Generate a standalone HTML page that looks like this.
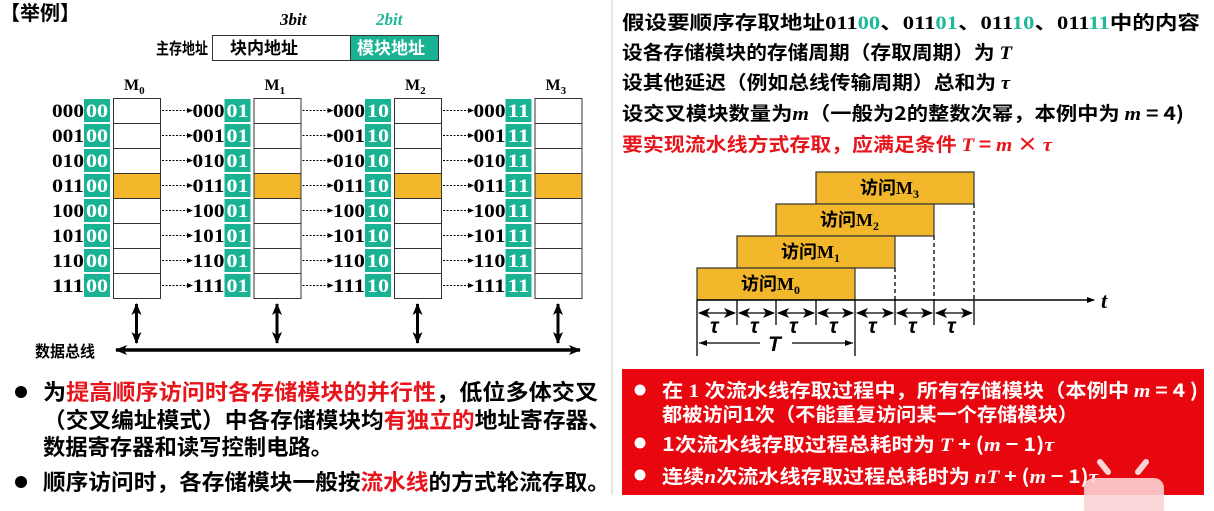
<!DOCTYPE html>
<html><head><meta charset="utf-8"><style>
html,body{margin:0;padding:0;background:#fff;width:1214px;height:511px;overflow:hidden}
svg{display:block}
text{font-family:"Liberation Sans","Noto Sans CJK SC",sans-serif;font-weight:bold}
.cj{font-family:"Noto Sans CJK SC","WenQuanYi Zen Hei",sans-serif;font-weight:bold}
.se{font-family:"Liberation Serif","Noto Serif CJK SC",serif;font-weight:bold}
.it{font-family:"Liberation Serif",serif;font-style:italic;font-weight:bold}
</style></head><body>
<svg width="1214" height="511" viewBox="0 0 1214 511" xmlns="http://www.w3.org/2000/svg">
<defs>
<marker id="ah" markerWidth="8" markerHeight="8" refX="7" refY="4" orient="auto" markerUnits="userSpaceOnUse"><path d="M0,1 L8,4 L0,7 Z" fill="#000"/></marker>
<marker id="ahs" markerWidth="6" markerHeight="6" refX="5" refY="3" orient="auto" markerUnits="userSpaceOnUse"><path d="M0,0.5 L6,3 L0,5.5 Z" fill="#000"/></marker>
<marker id="ahb" markerWidth="12" markerHeight="12" refX="11" refY="6" orient="auto-start-reverse" markerUnits="userSpaceOnUse"><path d="M0,1 L12,6 L0,11 L3,6 Z" fill="#000"/></marker>
</defs>

<line x1="612" y1="0" x2="612" y2="495" stroke="#ccc" stroke-width="1"/>

<text x="0" y="20" class="cj" font-size="20">【举例】</text>
<text x="280" y="25" class="it" font-size="17">3bit</text>
<text x="376" y="25" class="it" font-size="17" fill="#1fb89a">2bit</text>
<text x="156" y="54" class="cj" font-size="16" textLength="52" lengthAdjust="spacingAndGlyphs">主存地址</text>
<rect x="212.5" y="35.5" width="138" height="25" fill="#fff" stroke="#333"/>
<rect x="350.5" y="35.5" width="88" height="25" fill="#19b394" stroke="#333"/>
<text x="230" y="54" class="cj" font-size="17">块内地址</text>
<text x="357" y="54" class="cj" font-size="17" fill="#fff">模块地址</text>

<g id="mods"></g>
<script>
(function(){
var NS="http://www.w3.org/2000/svg",g=document.getElementById('mods');
function el(t,a,txt){var e=document.createElementNS(NS,t);for(var k in a)e.setAttribute(k,a[k]);if(txt!=null)e.textContent=txt;g.appendChild(e);return e;}
var hi=["000","001","010","011","100","101","110","111"],lo=["00","01","10","11"];
for(var m=0;m<4;m++){
 var ox=m*140.5;
 var h=el('text',{x:124+ox,y:90,'class':'se','font-size':'16'},'M');
 var s=document.createElementNS(NS,'tspan');s.setAttribute('font-size','11');s.setAttribute('dy','4');s.textContent=m;h.appendChild(s);
 for(var r=0;r<8;r++){
  var y=98+r*25;
  el('rect',{x:113+ox+0.5,y:y+0.5,width:47,height:25,fill:(r==3?'#f2b72a':'#fff'),stroke:'#333','stroke-width':'1'});
  el('rect',{x:84+ox,y:y+1,width:26,height:23,fill:'#19b394'});
  el('text',{x:52+ox,y:y+19,'class':'se','font-size':'19',textLength:'32',lengthAdjust:'spacingAndGlyphs'},hi[r]);
  el('text',{x:86+ox,y:y+19,'class':'se','font-size':'19',fill:'#fff',textLength:'22',lengthAdjust:'spacingAndGlyphs'},lo[m]);
  if(m<3){el('line',{x1:162+ox,y1:y+12.5,x2:192+ox,y2:y+12.5,stroke:'#000','stroke-width':'1','stroke-dasharray':'2,1.5','marker-end':'url(#ahs)'});}
 }
 el('line',{x1:136.5+ox,y1:304,x2:136.5+ox,y2:343,stroke:'#000','stroke-width':'3','marker-end':'url(#ahb)','marker-start':'url(#ahb)'});
}
})();
</script>
<line x1="116" y1="350" x2="580" y2="350" stroke="#000" stroke-width="3.5" marker-end="url(#ahb)" marker-start="url(#ahb)"/>
<text x="35" y="357" class="cj" font-size="16" textLength="60" lengthAdjust="spacingAndGlyphs">数据总线</text>

<circle cx="21" cy="392" r="6" fill="#000"/>
<text x="43" y="400" class="cj" font-size="22" textLength="555" lengthAdjust="spacingAndGlyphs">为<tspan fill="#e8141b">提高顺序访问时各存储模块的并行性</tspan>，低位多体交叉</text>
<text x="43" y="428" class="cj" font-size="22" textLength="568" lengthAdjust="spacingAndGlyphs">（交叉编址模式）中各存储模块均<tspan fill="#e8141b">有独立的</tspan>地址寄存器、</text>
<text x="43" y="455" class="cj" font-size="22" textLength="290" lengthAdjust="spacingAndGlyphs">数据寄存器和读写控制电路。</text>
<circle cx="21" cy="482" r="6" fill="#000"/>
<text x="43" y="490" class="cj" font-size="22" textLength="567" lengthAdjust="spacingAndGlyphs">顺序访问时，各存储模块一般按<tspan fill="#e8141b">流水线</tspan>的方式轮流存取。</text>

<text x="622" y="29" class="cj" font-size="19" textLength="578" lengthAdjust="spacingAndGlyphs">假设要顺序存取地址<tspan class="se">011<tspan fill="#1fb89a">00</tspan></tspan>、<tspan class="se">011<tspan fill="#1fb89a">01</tspan></tspan>、<tspan class="se">011<tspan fill="#1fb89a">10</tspan></tspan>、<tspan class="se">011<tspan fill="#1fb89a">11</tspan></tspan>中的内容</text>
<text x="622" y="59" class="cj" font-size="19" textLength="390" lengthAdjust="spacingAndGlyphs">设各存储模块的存储周期（存取周期）为 <tspan class="it">T</tspan></text>
<text x="622" y="89" class="cj" font-size="19" textLength="388" lengthAdjust="spacingAndGlyphs">设其他延迟（例如总线传输周期）总和为 <tspan class="it">τ</tspan></text>
<text x="622" y="120" class="cj" font-size="19" textLength="562" lengthAdjust="spacingAndGlyphs">设交叉模块数量为<tspan class="it">m</tspan>（一般为2的整数次幂，本例中为 <tspan class="it">m</tspan> = 4)</text>
<text x="622" y="151" class="cj" font-size="19" fill="#e8141b" textLength="430" lengthAdjust="spacingAndGlyphs">要实现流水线方式存取，应满足条件 <tspan class="it">T</tspan> = <tspan class="it">m</tspan> × <tspan class="it">τ</tspan></text>

<g stroke="#333" stroke-width="1.2">
<rect x="816" y="172" width="158" height="32" fill="#f2b72a"/>
<rect x="776" y="204" width="158" height="32" fill="#f2b72a"/>
<rect x="737" y="236" width="158" height="32" fill="#f2b72a"/>
<rect x="697" y="268" width="158" height="32" fill="#f2b72a"/>
</g>
<text x="860" y="194" class="cj" font-size="18">访问<tspan class="se">M<tspan font-size="12" dy="4">3</tspan></tspan></text>
<text x="820" y="226" class="cj" font-size="18">访问<tspan class="se">M<tspan font-size="12" dy="4">2</tspan></tspan></text>
<text x="781" y="258" class="cj" font-size="18">访问<tspan class="se">M<tspan font-size="12" dy="4">1</tspan></tspan></text>
<text x="741" y="290" class="cj" font-size="18">访问<tspan class="se">M<tspan font-size="12" dy="4">0</tspan></tspan></text>
<g stroke="#000" stroke-width="1.3" stroke-dasharray="4,3">
<line x1="895" y1="268" x2="895" y2="300"/>
<line x1="934" y1="236" x2="934" y2="300"/>
<line x1="974" y1="204" x2="974" y2="300"/>
</g>
<line x1="697" y1="300" x2="1094" y2="300" stroke="#000" stroke-width="1.5" marker-end="url(#ah)"/>
<text x="1101" y="308" class="it" font-size="22">t</text>
<g stroke="#000" stroke-width="1.3">
<line x1="697" y1="300" x2="697" y2="356"/>
<line x1="737" y1="300" x2="737" y2="325"/>
<line x1="776" y1="300" x2="776" y2="325"/>
<line x1="816" y1="300" x2="816" y2="325"/>
<line x1="855" y1="300" x2="855" y2="356"/>
<line x1="895" y1="300" x2="895" y2="325"/>
<line x1="934" y1="300" x2="934" y2="325"/>
<line x1="974" y1="300" x2="974" y2="325"/>
</g>
<g stroke="#000" stroke-width="1.2">
<line x1="699" y1="313" x2="735" y2="313" marker-start="url(#ahb)" marker-end="url(#ahb)"/>
<line x1="739" y1="313" x2="774" y2="313" marker-start="url(#ahb)" marker-end="url(#ahb)"/>
<line x1="778" y1="313" x2="814" y2="313" marker-start="url(#ahb)" marker-end="url(#ahb)"/>
<line x1="818" y1="313" x2="853" y2="313" marker-start="url(#ahb)" marker-end="url(#ahb)"/>
<line x1="857" y1="313" x2="893" y2="313" marker-start="url(#ahb)" marker-end="url(#ahb)"/>
<line x1="897" y1="313" x2="932" y2="313" marker-start="url(#ahb)" marker-end="url(#ahb)"/>
<line x1="936" y1="313" x2="972" y2="313" marker-start="url(#ahb)" marker-end="url(#ahb)"/>
<line x1="699" y1="343" x2="760" y2="343"/>
<line x1="792" y1="343" x2="853" y2="343"/>
</g>
<path d="M699,343 l8,-3 v6 z M853,343 l-8,-3 v6 z" fill="#000"/>
<g class="it" font-size="21">
<text x="710" y="333">τ</text><text x="750" y="333">τ</text><text x="789" y="333">τ</text><text x="829" y="333">τ</text>
<text x="868" y="333">τ</text><text x="908" y="333">τ</text><text x="947" y="333">τ</text>
<text x="768" y="351">T</text>
</g>

<rect x="622" y="369" width="582" height="126" fill="#e8070f"/>
<g fill="#fff">
<circle cx="640" cy="390" r="5.5"/><circle cx="640" cy="443" r="5.5"/><circle cx="640" cy="475" r="5.5"/>
<text x="662" y="397" class="cj" font-size="19" textLength="536" lengthAdjust="spacingAndGlyphs">在<tspan class="se"> 1 </tspan>次流水线存取过程中，所有存储模块（本例中 <tspan class="it">m</tspan> = 4 )</text>
<text x="662" y="421" class="cj" font-size="19" textLength="416" lengthAdjust="spacingAndGlyphs">都被访问1次（不能重复访问某一个存储模块）</text>
<text x="662" y="451" class="cj" font-size="19" textLength="392" lengthAdjust="spacingAndGlyphs">1次流水线存取过程总耗时为 <tspan class="it">T</tspan> + (<tspan class="it">m</tspan> − 1)<tspan class="it">τ</tspan></text>
<text x="662" y="483" class="cj" font-size="19" textLength="436" lengthAdjust="spacingAndGlyphs">连续<tspan class="it">n</tspan>次流水线存取过程总耗时为 <tspan class="it">nT</tspan> + (<tspan class="it">m</tspan> − 1)<tspan class="it">τ</tspan></text>
</g>
<rect x="1084" y="478" width="80" height="40" rx="10" fill="#fcd3d5" opacity="0.9"/>
<path d="M1108,472 l-8,-10 M1138,472 l8,-10" stroke="#fcd3d5" stroke-width="6" stroke-linecap="round"/>
</svg>
</body></html>
